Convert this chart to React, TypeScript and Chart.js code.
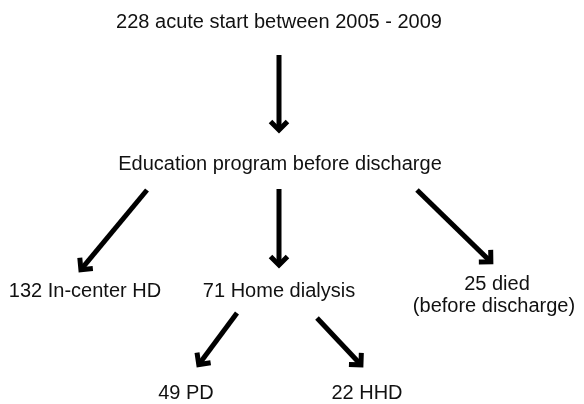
import React, { useEffect, useRef } from "react";
import { Chart, registerables } from "chart.js";

Chart.register(...registerables);

// Flow-chart nodes (label, centre x, text baseline y in diagram units)
const nodeLabels = [
  "228 acute start between 2005 - 2009",
  "Education program before discharge",
  "132 In-center HD",
  "71 Home dialysis",
  "25 died",
  "(before discharge)",
  "49 PD",
  "22 HHD",
];
const nodeX = [279, 280, 85, 279, 497, 494, 186, 367];
const nodeY = [28, 170, 297, 297, 290, 312, 399, 399];

// Arrows (start -> tip) in diagram units
const arrowFromX = [279, 279, 147, 417, 237, 317];
const arrowFromY = [55, 189, 190, 190, 313, 318];
const arrowToX = [279, 279, 79, 493, 197, 363];
const arrowToY = [133, 268, 272, 264, 367, 367];

const FONT = "20px 'Liberation Sans', Arial, sans-serif";

const flowPlugin = {
  id: "flow",
  afterDatasetsDraw(chart: any) {
    const { ctx, scales } = chart;
    const xs = scales.x;
    const ys = scales.y;
    ctx.save();
    // arrowheads
    ctx.strokeStyle = "#000";
    ctx.lineWidth = 5;
    ctx.lineJoin = "miter";
    ctx.lineCap = "butt";
    for (let i = 0; i < arrowToX.length; i++) {
      const x0 = xs.getPixelForValue(arrowFromX[i]);
      const y0 = ys.getPixelForValue(arrowFromY[i]);
      const x1 = xs.getPixelForValue(arrowToX[i]);
      const y1 = ys.getPixelForValue(arrowToY[i]);
      const ang = Math.atan2(y1 - y0, x1 - x0);
      const len = 12;
      const back = 3;
      const tx = x1 - Math.cos(ang) * back;
      const ty = y1 - Math.sin(ang) * back;
      ctx.beginPath();
      ctx.moveTo(tx - len * Math.cos(ang - Math.PI / 4), ty - len * Math.sin(ang - Math.PI / 4));
      ctx.lineTo(tx, ty);
      ctx.lineTo(tx - len * Math.cos(ang + Math.PI / 4), ty - len * Math.sin(ang + Math.PI / 4));
      ctx.stroke();
    }
    // labels
    ctx.fillStyle = "#111";
    ctx.font = FONT;
    ctx.textAlign = "center";
    ctx.textBaseline = "alphabetic";
    for (let i = 0; i < nodeLabels.length; i++) {
      ctx.fillText(nodeLabels[i], xs.getPixelForValue(nodeX[i]), ys.getPixelForValue(nodeY[i]));
    }
    ctx.restore();
  },
};

export default function App() {
  const ref = useRef<HTMLCanvasElement | null>(null);
  useEffect(() => {
    document.body.style.margin = "0";
    const canvas = ref.current;
    if (!canvas) return;
    const datasets = arrowFromX.map((_, i) => {
      const ang = Math.atan2(arrowToY[i] - arrowFromY[i], arrowToX[i] - arrowFromX[i]);
      return {
        data: [
          { x: arrowFromX[i], y: arrowFromY[i] },
          { x: arrowToX[i] - 3 * Math.cos(ang), y: arrowToY[i] - 3 * Math.sin(ang) },
        ],
        showLine: true,
        borderColor: "#000",
        borderWidth: 5,
        pointRadius: 0,
        pointHoverRadius: 0,
        borderCapStyle: "butt" as const,
      };
    });
    const chart = new Chart(canvas, {
      type: "scatter",
      data: { datasets },
      options: {
        animation: false,
        responsive: false,
        maintainAspectRatio: false,
        layout: { padding: 0 },
        events: [],
        plugins: { legend: { display: false }, tooltip: { enabled: false } },
        scales: {
          x: { type: "linear", min: 0, max: 584, display: false },
          y: { type: "linear", min: 0, max: 404, reverse: true, display: false },
        },
      },
      plugins: [flowPlugin],
    });
    return () => chart.destroy();
  }, []);
  return (
    <div style={{ width: 584, height: 404, background: "#fff" }}>
      <canvas ref={ref} width={584} height={404} style={{ display: "block" }} />
    </div>
  );
}
